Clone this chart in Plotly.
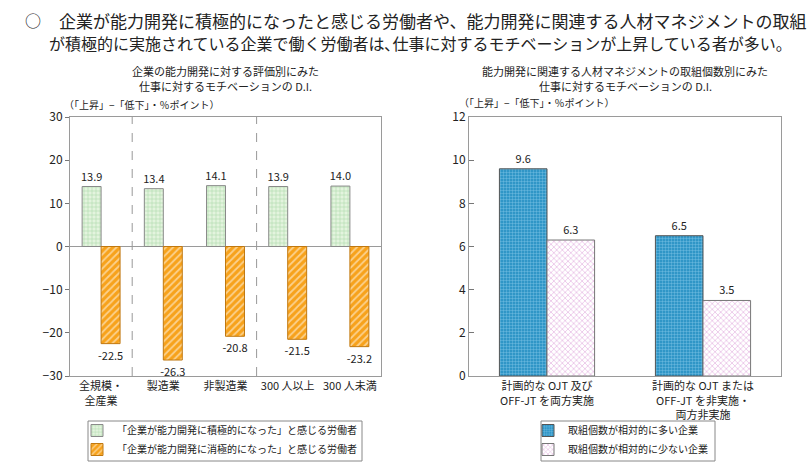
import plotly.graph_objects as go

# ---------------- data ----------------
left_categories = ["全規模・<br>全産業", "製造業", "非製造業", "300 人以上", "300 人未満"]
left_positive = [13.9, 13.4, 14.1, 13.9, 14.0]
left_negative = [-22.5, -26.3, -20.8, -21.5, -23.2]
left_series_names = ["「企業が能力開発に積極的になった」と感じる労働者",
                     "「企業が能力開発に消極的になった」と感じる労働者"]

right_categories = ["計画的な OJT 及び<br>OFF-JT を両方実施",
                    "計画的な OJT または<br>OFF-JT を非実施・<br>両方非実施"]
right_many = [9.6, 6.5]
right_few = [6.3, 3.5]
right_series_names = ["取組個数が相対的に多い企業", "取組個数が相対的に少ない企業"]

left_ticks = [-30, -20, -10, 0, 10, 20, 30]
right_ticks = [0, 2, 4, 6, 8, 10, 12]

FONT = "Noto Sans CJK JP"
W, H = 812, 463

def px_x(p):
    return p / W

def px_y(p):
    return 1 - p / H

fig = go.Figure()

bar_text = dict(textposition="outside", constraintext="none", cliponaxis=False,
                textfont=dict(size=11, color="#222"))

fig.add_trace(go.Bar(
    x=left_categories, y=left_positive, name=left_series_names[0],
    xaxis="x", yaxis="y", legend="legend",
    marker=dict(color="#d9f0d3", line=dict(color="#8a8a8a", width=1),
                pattern=dict(shape="+", fgcolor="#6fb56f", bgcolor="#e3f4de", size=4, solidity=0.25)),
    text=[f"{v:.1f}" for v in left_positive], **bar_text,
))
fig.add_trace(go.Bar(
    x=left_categories, y=left_negative, name=left_series_names[1],
    xaxis="x", yaxis="y", legend="legend",
    marker=dict(color="#f7a21b", line=dict(color="#c07810", width=1),
                pattern=dict(shape="/", fgcolor="#ffffff", bgcolor="#f7a21b", size=5, solidity=0.35)),
    text=[f"{v:.1f}" for v in left_negative], **bar_text,
))
fig.add_trace(go.Bar(
    x=right_categories, y=right_many, name=right_series_names[0],
    xaxis="x2", yaxis="y2", legend="legend2",
    marker=dict(color="#1f8cc0", line=dict(color="#555", width=1),
                pattern=dict(shape=".", fgcolor="#a8dcf5", bgcolor="#1f8cc0", size=3, solidity=0.5)),
    text=[f"{v:.1f}" for v in right_many], **bar_text,
))
fig.add_trace(go.Bar(
    x=right_categories, y=right_few, name=right_series_names[1],
    xaxis="x2", yaxis="y2", legend="legend2",
    marker=dict(color="#ffffff", line=dict(color="#777", width=1),
                pattern=dict(shape="x", fgcolor="#c765c0", bgcolor="#ffffff", size=4, solidity=0.3)),
    text=[f"{v:.1f}" for v in right_few], **bar_text,
))

axis_common = dict(showline=True, linecolor="#9a9a9a", linewidth=1, mirror=True,
                   showgrid=False, tickfont=dict(size=12, color="#222", family=FONT))

legend_common = dict(xanchor="left", yanchor="top", borderwidth=0,
                     bgcolor="rgba(0,0,0,0)", font=dict(size=10, family=FONT),
                     tracegroupgap=0, itemwidth=30)

fig.update_layout(
    width=W, height=H, margin=dict(l=0, r=0, t=0, b=0, autoexpand=False),
    paper_bgcolor="white", plot_bgcolor="white",
    font=dict(family=FONT, color="#222"),
    barmode="group", bargap=0.39, bargroupgap=0,
    xaxis=dict(domain=[px_x(70), px_x(381)], anchor="y", ticks="", **axis_common),
    yaxis=dict(domain=[px_y(376), px_y(117)], anchor="x", range=[-30, 30],
               tickvals=left_ticks, ticks="outside", ticklen=4, tickcolor="#777",
               zeroline=True, zerolinecolor="#9a9a9a", zerolinewidth=1, **axis_common),
    xaxis2=dict(domain=[px_x(469), px_x(781)], anchor="y2", ticks="", **axis_common),
    yaxis2=dict(domain=[px_y(376), px_y(117)], anchor="x2", range=[0, 12],
                tickvals=right_ticks, ticks="inside", ticklen=5, tickcolor="#777",
                zeroline=False, **axis_common),
    legend=dict(x=px_x(77), y=px_y(416), **legend_common),
    legend2=dict(x=px_x(528), y=px_y(416), **legend_common),
    showlegend=True,
)
fig.update_xaxes(tickfont_size=11)

# separators in left chart
for xv in [0.5, 2.5]:
    fig.add_shape(type="line", xref="x", yref="y domain", x0=xv, x1=xv, y0=0, y1=1,
                  line=dict(color="#999", width=1, dash="dash"))

# legend frames
fig.add_shape(type="rect", xref="paper", yref="paper",
              x0=px_x(88), x1=px_x(362), y0=px_y(461), y1=px_y(421),
              line=dict(color="#888", width=1), fillcolor="rgba(0,0,0,0)")
fig.add_shape(type="rect", xref="paper", yref="paper",
              x0=px_x(541), x1=px_x(715), y0=px_y(461), y1=px_y(421),
              line=dict(color="#888", width=1), fillcolor="rgba(0,0,0,0)")

annotations = [
    dict(text="○", x=px_x(33), y=px_y(20), xanchor="center", yanchor="middle",
         font=dict(size=16)),
    dict(text="企業が能力開発に積極的になったと感じる労働者や、能力開発に関連する人材マネジメントの取組",
         x=px_x(433), y=px_y(20), xanchor="center", yanchor="middle", font=dict(size=17)),
    dict(text="が積極的に実施されている企業で働く労働者は､仕事に対するモチベーションが上昇している者が多い。",
         x=px_x(420), y=px_y(43), xanchor="center", yanchor="middle", font=dict(size=16)),
    dict(text="企業の能力開発に対する評価別にみた",
         x=px_x(225), y=px_y(71), xanchor="center", yanchor="middle", font=dict(size=11)),
    dict(text="仕事に対するモチベーションの D.I.",
         x=px_x(225), y=px_y(86), xanchor="center", yanchor="middle", font=dict(size=11)),
    dict(text="能力開発に関連する人材マネジメントの取組個数別にみた",
         x=px_x(625), y=px_y(71), xanchor="center", yanchor="middle", font=dict(size=11)),
    dict(text="仕事に対するモチベーションの D.I.",
         x=px_x(625), y=px_y(86), xanchor="center", yanchor="middle", font=dict(size=11)),
    dict(text="（「上昇」−「低下」・％ポイント）", x=px_x(142), y=px_y(104),
         xanchor="center", yanchor="middle", font=dict(size=10)),
    dict(text="（「上昇」−「低下」・％ポイント）", x=px_x(537), y=px_y(103),
         xanchor="center", yanchor="middle", font=dict(size=10)),
]
for a in annotations:
    a.update(xref="paper", yref="paper", showarrow=False)
fig.update_layout(annotations=annotations)

fig.write_html("out.html", config={"displayModeBar": False},
               post_script="document.body.style.margin='0';")
